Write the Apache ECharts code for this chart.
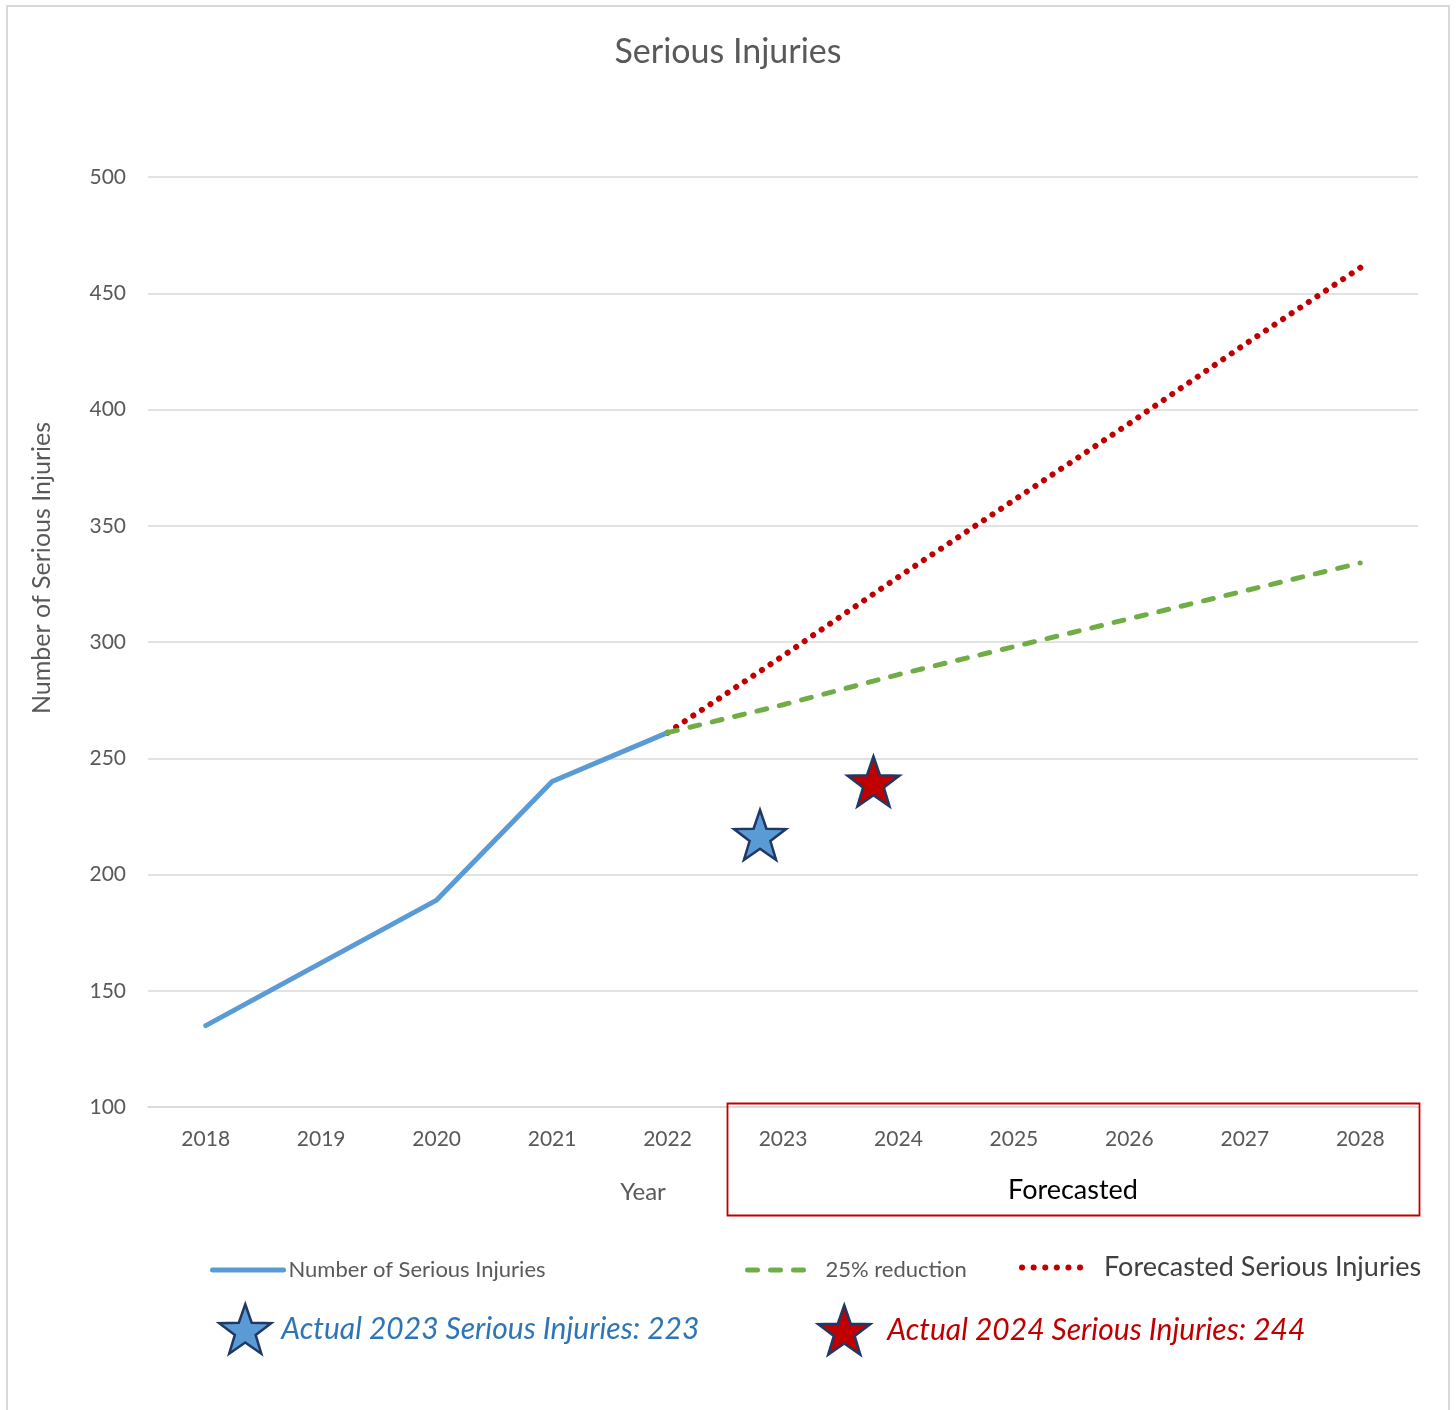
<!DOCTYPE html>
<html>
<head>
<meta charset="utf-8">
<script src="https://cdn.jsdelivr.net/npm/echarts@6/dist/echarts.min.js"></script>
<style>html,body{margin:0;padding:0;background:#fff}#c{width:1456px;height:1410px}</style>
</head>
<body>
<div id="c"></div>
<script>
const years = ['2018','2019','2020','2021','2022','2023','2024','2025','2026','2027','2028'];
const injuries = [135, 162, 189, 240, 261, null, null, null, null, null, null];
const reduction25 = [null, null, null, null, 261, 273, 286, 298, 310, 322, 334];
const forecasted = [null, null, null, null, 261, 294, 328, 361, 394, 428, 461];
const star2023 = [null, null, null, null, null, 217, null, null, null, null, null];
const star2024 = [null, null, null, null, null, null, 240, null, null, null, null];
const yTicks = [100, 150, 200, 250, 300, 350, 400, 450, 500];

const FONT = 'Lato';
const STAR = 'path://M50 0 L61.76 33.82 L97.55 34.55 L69.02 56.18 L79.39 90.45 L50 70 L20.61 90.45 L30.98 56.18 L2.45 34.55 L38.24 33.82 Z';
const hiddenSymbol = { color: 'rgba(0,0,0,0)', borderWidth: 0 };

const chart = echarts.init(document.getElementById('c'));
chart.setOption({
  backgroundColor: '#fff',
  animation: false,
  textStyle: { fontFamily: FONT },
  title: {
    text: 'Serious Injuries', left: 'center', top: 30,
    textStyle: { fontFamily: FONT, fontSize: 34, fontWeight: 'normal', color: '#595959' }
  },
  grid: { left: 148, right: 38, top: 177, bottom: 303, containLabel: false },
  xAxis: {
    type: 'category', data: years, boundaryGap: true,
    axisLine: { show: true, lineStyle: { color: '#d9d9d9', width: 1.5 } },
    axisTick: { show: false },
    axisLabel: { color: '#595959', fontSize: 21, fontFamily: FONT, margin: 22 },
    name: 'Year', nameLocation: 'middle', nameGap: 73,
    nameTextStyle: { color: '#595959', fontSize: 24, fontFamily: FONT, padding: [0, 280, 0, 0] }
  },
  yAxis: {
    type: 'value', min: yTicks[0], max: yTicks[yTicks.length - 1], interval: 50,
    axisLine: { show: false }, axisTick: { show: false },
    axisLabel: { color: '#595959', fontSize: 21, fontFamily: FONT, margin: 22 },
    splitLine: { lineStyle: { color: '#d9d9d9', width: 1.5 } }
  },
  legend: [
    {
      data: ['Number of Serious Injuries'], left: 210, top: 1259, padding: 0,
      itemWidth: 71, itemHeight: 12,
      itemStyle: hiddenSymbol,
      lineStyle: { width: 5, cap: 'round' },
      textStyle: { fontSize: 22, color: '#595959', fontFamily: FONT, padding: [0, 0, 0, 0] }
    },
    {
      data: ['25% reduction'], left: 745, top: 1259, padding: 0,
      itemWidth: 65, itemHeight: 12,
      itemStyle: hiddenSymbol,
      lineStyle: { width: 5, cap: 'round', type: [10, 13] },
      textStyle: { fontSize: 22, color: '#595959', fontFamily: FONT, padding: [0, 0, 0, 8] }
    },
    {
      data: ['Forecasted Serious Injuries'], left: 1019, top: 1254, padding: 0,
      itemWidth: 68, itemHeight: 12,
      itemStyle: hiddenSymbol,
      lineStyle: { width: 6, cap: 'round', type: [0.1, 11.5] },
      textStyle: { fontSize: 27, color: '#404040', fontFamily: FONT, padding: [0, 0, 0, 9] }
    },
    {
      data: ['Actual 2023 Serious Injuries: 223'], left: 218, top: 1303, padding: 0,
      itemWidth: 52, itemHeight: 52, icon: STAR,
      itemStyle: { borderColor: '#203864', borderWidth: 2.5, opacity: 1 },
      textStyle: { fontSize: 30, fontStyle: 'italic', color: '#2e75b6', fontFamily: FONT, padding: [0, 0, 0, 5] }
    },
    {
      data: ['Actual 2024 Serious Injuries: 244'], left: 817, top: 1304, padding: 0,
      itemWidth: 52, itemHeight: 52, icon: STAR,
      itemStyle: { borderColor: '#203864', borderWidth: 2.5, opacity: 1 },
      textStyle: { fontSize: 30, fontStyle: 'italic', color: '#c00000', fontFamily: FONT, padding: [0, 0, 0, 12] }
    }
  ],
  series: [
    {
      name: 'Number of Serious Injuries', type: 'line', data: injuries,
      symbol: 'none', connectNulls: false,
      lineStyle: { color: '#5b9bd5', width: 5, cap: 'round' },
      itemStyle: { color: '#5b9bd5' }, z: 3
    },
    {
      name: '25% reduction', type: 'line', data: reduction25,
      symbol: 'none',
      lineStyle: { color: '#70ad47', width: 5, type: [10, 13], cap: 'round' },
      itemStyle: { color: '#70ad47' }, z: 4
    },
    {
      name: 'Forecasted Serious Injuries', type: 'line', data: forecasted,
      symbol: 'none',
      lineStyle: { color: '#c00000', width: 6, type: [0.1, 10.2], cap: 'round' },
      itemStyle: { color: '#c00000' }, z: 2
    },
    {
      name: 'Actual 2023 Serious Injuries: 223', type: 'scatter', data: star2023,
      symbol: STAR, symbolSize: [52, 50], symbolOffset: [-23, 0],
      itemStyle: { color: '#5b9bd5', borderColor: '#203864', borderWidth: 2.5, opacity: 1 }, z: 5
    },
    {
      name: 'Actual 2024 Serious Injuries: 244', type: 'scatter', data: star2024,
      symbol: STAR, symbolSize: [52, 50], symbolOffset: [-25, 0],
      itemStyle: { color: '#c00000', borderColor: '#203864', borderWidth: 2.5, opacity: 1 }, z: 5
    }
  ],
  graphic: [
    {
      type: 'rect', silent: true, z: 0,
      shape: { x: 7, y: 6, width: 1442, height: 1410 },
      style: { fill: 'none', stroke: '#d9d9d9', lineWidth: 2 }
    },
    {
      type: 'rect', silent: true, z: 10,
      shape: { x: 727.5, y: 1103.5, width: 692, height: 112 },
      style: { fill: 'none', stroke: '#c00000', lineWidth: 1.8 }
    },
    {
      type: 'text', silent: true, z: 10, x: 1073, y: 1190,
      style: { text: 'Forecasted', font: '27px Lato', fill: '#000', textAlign: 'center', textVerticalAlign: 'middle' }
    },
    {
      type: 'text', silent: true, z: 10, x: 42, y: 568, rotation: Math.PI / 2,
      style: { text: 'Number of Serious Injuries', font: '25px Lato', fill: '#595959', textAlign: 'center', textVerticalAlign: 'middle' }
    }
  ]
});
</script>
</body>
</html>
